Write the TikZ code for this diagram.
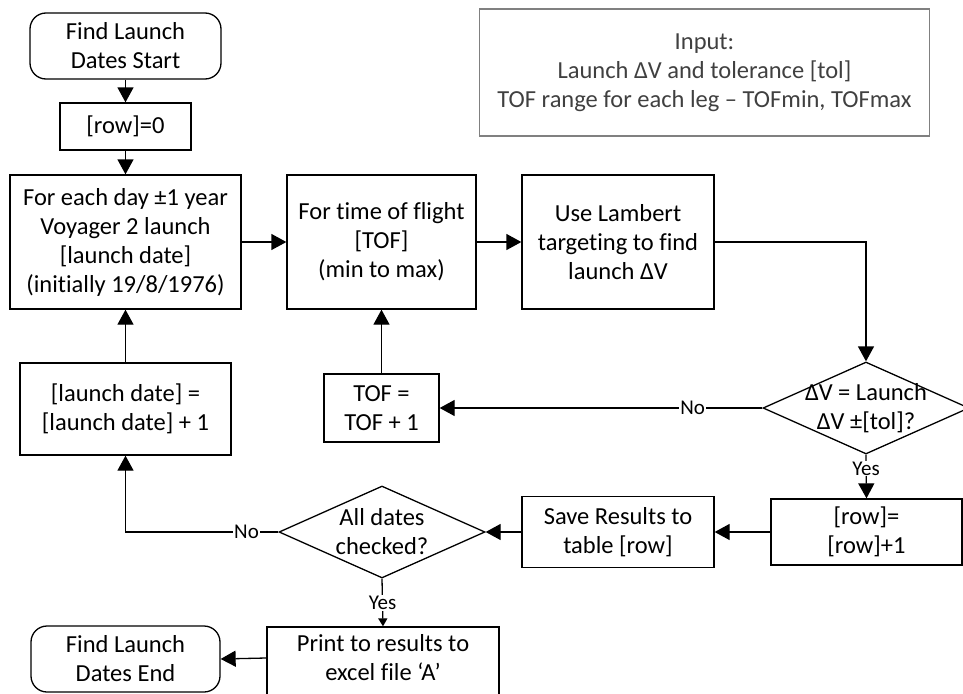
\documentclass[tikz,border=0pt]{standalone}
\usepackage{fontspec}
\setmainfont{Carlito}[Ligatures=NoCommon]
\usetikzlibrary{arrows.meta,shapes.geometric}
\tikzset{
  box/.style={draw=black, line width=1.3pt, rectangle, inner sep=0pt, align=center, font=\fontsize{24.5}{29}\selectfont},
  term/.style={box, rounded corners=16pt},
  dec/.style={draw=black, line width=1.3pt, diamond, inner sep=0pt},
  txt/.style={align=center, inner sep=0pt, font=\fontsize{24.5}{29}\selectfont},
  inbox/.style={draw=black!50, line width=1.3pt, rectangle, inner sep=0pt, align=center, text=black!75, font=\fontsize{24.5}{29}\selectfont},
  conn/.style={line width=1.3pt, -{Triangle[length=15pt,width=16pt]}},
  connsmall/.style={line width=1.3pt, -{Triangle[length=8pt,width=9pt]}},
  lbl/.style={fill=white, inner sep=1pt, font=\fontsize{21}{23}\selectfont}
}
\begin{document}
\begin{tikzpicture}[x=1pt,y=-1pt]
\useasboundingbox (0,0) rectangle (963,693);
\clip (0,0) rectangle (963,693);
\node[term, minimum width=191pt, minimum height=66pt] (start) at (125.5,46) {Find Launch\\Dates Start};
\node[box, minimum width=131pt, minimum height=47pt] (row0) at (125.5,126.5) {[row]=0};
\node[box, minimum width=231pt, minimum height=134pt] (foreach) at (125.5,242) {For each day ±1 year\\Voyager 2 launch\\{[launch date]}\\(initially 19/8/1976)};
\node[box, minimum width=189pt, minimum height=134pt] (tof) at (381.5,242) {For time of flight\\{[TOF]}\\(min to max)};
\node[box, minimum width=192pt, minimum height=134pt] (lam) at (618,242) {Use Lambert\\targeting to find\\launch ΔV};
\node[inbox, minimum width=450pt, minimum height=127pt] (input) at (704.5,72.5) {Input:\\Launch ΔV and tolerance [tol]\\TOF range for each leg – TOFmin, TOFmax};
\node[dec, minimum width=206pt, minimum height=92pt] (d1) at (866,408) {};
\node[txt] (d1t) at (866,408) {ΔV = Launch\\ΔV ±[tol]?};
\node[box, minimum width=115pt, minimum height=68pt] (tofinc) at (381.5,408) {TOF =\\TOF + 1};
\node[box, minimum width=211pt, minimum height=92pt] (ldinc) at (125.5,409) {[launch date] =\\{[launch date]} + 1};
\node[box, minimum width=191pt, minimum height=66pt] (rowinc) at (866.5,532) {[row]=\\{[row]}+1};
\node[box, minimum width=192pt, minimum height=71pt] (save) at (618,532) {Save Results to\\table [row]};
\node[dec, minimum width=206pt, minimum height=92pt] (d2) at (382,532) {};
\node[txt] (d2t) at (382,532) {All dates\\checked?};
\node[box, minimum width=232pt, minimum height=80pt] (print) at (383,667) {};
\node[txt] (printt) at (383,658) {Print to results to\\excel file ‘A’};
\node[term, minimum width=189pt, minimum height=66pt] (end) at (125.5,659) {Find Launch\\Dates End};

\draw[conn] (start) -- (row0);
\draw[conn] (row0) -- (foreach);
\draw[conn] (foreach) -- (tof);
\draw[conn] (tof) -- (lam);
\draw[conn] (lam.east) -| (d1.north);
\draw[conn] (d1.west) -- node[lbl, pos=0.216] (no1) {No} (tofinc.east);
\draw[conn] (tofinc.north) -- (tof.south);
\draw[conn] (d1.south) -- node[lbl, pos=0.32] (yes1) {Yes} (rowinc.north);
\draw[conn] (rowinc.west) -- (save.east);
\draw[conn] (save.west) -- (d2.east);
\draw[conn] (d2.west) -| node[lbl, pos=0.104] (no2) {No} (ldinc.south);
\draw[conn] (ldinc.north) -- (foreach.south);
\draw[connsmall] (d2.south) -- node[lbl, pos=0.51] (yes2) {Yes} (print.north);
\draw[conn] (printt -| print.west) -- (end.east);
\end{tikzpicture}
\end{document}
